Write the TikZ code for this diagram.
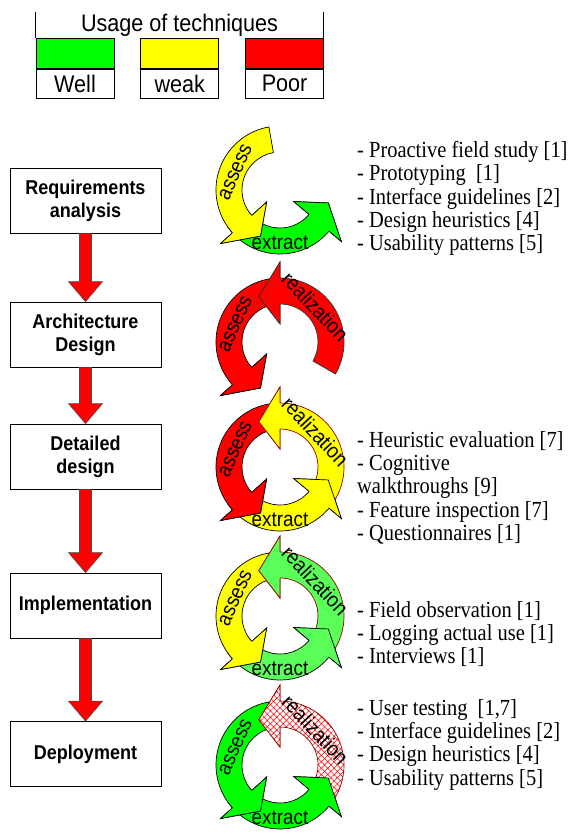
\documentclass[tikz,border=0pt]{standalone}
\usepackage{fontspec}
\setmainfont{Liberation Serif}[FakeStretch=0.89]
\setsansfont{Liberation Sans}[FakeStretch=0.9]
\usetikzlibrary{positioning,calc,patterns.meta}

\definecolor{wellgreen}{RGB}{0,255,0}
\definecolor{litegreen}{RGB}{90,255,90}
\definecolor{weakyellow}{RGB}{255,255,0}
\definecolor{poorred}{RGB}{255,0,0}
\definecolor{edgered}{RGB}{150,0,0}

\tikzset{
  legcol/.style={draw, line width=0.8pt, minimum width=78pt, minimum height=30pt, inner sep=0pt},
  legtext/.style={draw, line width=0.8pt, minimum width=78pt, minimum height=29pt, inner sep=0pt,
    font=\sffamily\fontsize{24}{24}\selectfont},
  stage/.style={draw, line width=0.8pt, fill=white, minimum width=151pt, minimum height=65pt,
    align=center, inner sep=0pt, font=\sffamily\bfseries\fontsize{20}{23}\selectfont},
  stagearr/.style={fill=poorred, draw=black!70, line width=0.6pt},
  items/.style={anchor=north west, align=left, inner sep=0pt, font=\fontsize{23}{23.4}\selectfont},
  cyclabel/.style={inner sep=0pt, font=\sffamily\fontsize{21}{21}\selectfont},
  well/.style={fill=wellgreen},
  lite/.style={fill=litegreen},
  weak/.style={fill=weakyellow},
  poor/.style={fill=poorred},
  hatched/.style={preaction={fill=white}, pattern={Hatch[angle=45, distance=4.5pt, line width=0.5pt]}, pattern color=poorred}
}

% one curved arrow of a cycle: fill, edge colour, start angle, end angle
\newcommand{\cyclearrow}[4]{%
  \path[#1, draw=#2, line width=0.7pt] (#3:64) arc[start angle=#3, end angle=#4, radius=64]
    -- (#4:80) -- ({#4+25}:50) -- (#4:18) -- (#4:38)
    arc[start angle=#4, end angle=#3, radius=38] -- cycle;}
% head again, on top of the next tail
\newcommand{\cyclehead}[3]{%
  \path[#1] (#3:64) -- (#3:80) -- ({#3+25}:50) -- (#3:18) -- (#3:38) -- cycle;
  \draw[#2, line width=0.7pt, line join=miter] (#3:64) -- (#3:80) -- ({#3+25}:50) -- (#3:18) -- (#3:38);}
% thick red arrow between two stages
\newcommand{\stagearrow}[2]{%
  \draw[stagearr] ($(#1.south)+(-6,0)$) -- ($(#2.north)+(-6,-20)$) -- ($(#2.north)+(-17,-20)$)
    -- (#2.north) -- ($(#2.north)+(17,-20)$) -- ($(#2.north)+(6,-20)$) -- ($(#1.south)+(6,0)$) -- cycle;}

\begin{document}
\begin{tikzpicture}[x=1pt, y=-1pt]
  \useasboundingbox (0,0) rectangle (569,835);

  % legend
  \node[minimum width=287pt, minimum height=26pt, inner sep=0pt, font=\sffamily\fontsize{24}{24}\selectfont]
    (legtitle) at (179.5,25) {Usage of techniques};
  \draw[line width=0.8pt] (legtitle.north west) -- (legtitle.south west);
  \draw[line width=0.8pt] (legtitle.north east) -- (legtitle.south east);
  \node[legcol, well] (legwell) at (75,53.5) {};
  \node[legcol, weak, right=26pt of legwell] (legweak) {};
  \node[legcol, poor, right=26pt of legweak] (legpoor) {};
  \node[legtext, below=0pt of legwell] (txtwell) {Well};
  \node[legtext, below=0pt of legweak] (txtweak) {weak};
  \node[legtext, below=0pt of legpoor] (txtpoor) {Poor};

  % stages
  \node[stage] (req) at (85.5,200.5) {Requirements\\analysis};
  \node[stage] (arch) at (85.5,334.5) {Architecture\\Design};
  \node[stage] (detail) at (85.5,456.5) {Detailed\\design};
  \node[stage] (impl) at (85.5,605.5) {Implementation};
  \node[stage] (deploy) at (85.5,754) {Deployment};
  \stagearrow{req}{arch}
  \stagearrow{arch}{detail}
  \stagearrow{detail}{impl}
  \stagearrow{impl}{deploy}

  % cycles
  \begin{scope}[shift={(280,190)}, y=1pt]
    \cyclearrow{well}{black}{215}{320}
    \cyclearrow{weak}{black}{100}{222}
    \cyclehead{well}{black}{320}
    \cyclehead{weak}{black}{222}
    \node[cyclabel, rotate=66] (assess1) at (158:48) {assess};
    \node[cyclabel] (extract1) at (270:53) {extract};
  \end{scope}
  \begin{scope}[shift={(280,342)}, y=1pt]
    \cyclearrow{poor}{black}{100}{222}
    \cyclearrow{poor}{black!80}{-30}{90}
    \cyclehead{poor}{black}{222}
    \cyclehead{poor}{black!80}{90}
    \node[cyclabel, rotate=66] (assess2) at (158:48) {assess};
    \node[cyclabel, rotate=-47] (real2) at (45:50) {realization};
  \end{scope}
  \begin{scope}[shift={(280,467)}, y=1pt]
    \cyclearrow{weak}{black}{215}{320}
    \cyclearrow{poor}{black}{100}{222}
    \cyclearrow{weak}{edgered}{-35}{90}
    \cyclehead{weak}{black}{320}
    \cyclehead{poor}{black}{222}
    \cyclehead{weak}{edgered}{90}
    \node[cyclabel, rotate=66] (assess3) at (158:48) {assess};
    \node[cyclabel, rotate=-47] (real3) at (45:50) {realization};
    \node[cyclabel] (extract3) at (270:53) {extract};
  \end{scope}
  \begin{scope}[shift={(280,616)}, y=1pt]
    \cyclearrow{lite}{black}{215}{320}
    \cyclearrow{weak}{black}{100}{222}
    \cyclearrow{lite}{edgered}{-35}{90}
    \cyclehead{lite}{black}{320}
    \cyclehead{weak}{black}{222}
    \cyclehead{lite}{edgered}{90}
    \node[cyclabel, rotate=66] (assess4) at (158:48) {assess};
    \node[cyclabel, rotate=-47] (real4) at (45:50) {realization};
    \node[cyclabel] (extract4) at (270:53) {extract};
  \end{scope}
  \begin{scope}[shift={(280,765)}, y=1pt]
    \cyclearrow{well}{black}{215}{320}
    \cyclearrow{well}{black}{100}{222}
    \cyclearrow{hatched}{edgered}{-35}{90}
    \cyclehead{well}{black}{320}
    \cyclehead{well}{black}{222}
    \cyclehead{hatched}{edgered}{90}
    \node[cyclabel, rotate=66] (assess5) at (158:48) {assess};
    \node[cyclabel, rotate=-47] (real5) at (45:50) {realization};
    \node[cyclabel] (extract5) at (270:53) {extract};
  \end{scope}

  % techniques
  \node[items] (reqlist) at (357,141) {- Proactive field study [1]\\- Prototyping~~[1]\\- Interface guidelines [2]\\- Design heuristics [4]\\- Usability patterns [5]};
  \node[items] (detlist) at (357,431) {- Heuristic evaluation [7]\\- Cognitive\\walkthroughs [9]\\- Feature inspection [7]\\- Questionnaires [1]};
  \node[items] (impllist) at (357,601) {- Field observation [1]\\- Logging actual use [1]\\- Interviews [1]};
  \node[items] (deplist) at (357,699) {- User testing~~[1,7]\\- Interface guidelines [2]\\- Design heuristics [4]\\- Usability patterns [5]};
\end{tikzpicture}
\end{document}
